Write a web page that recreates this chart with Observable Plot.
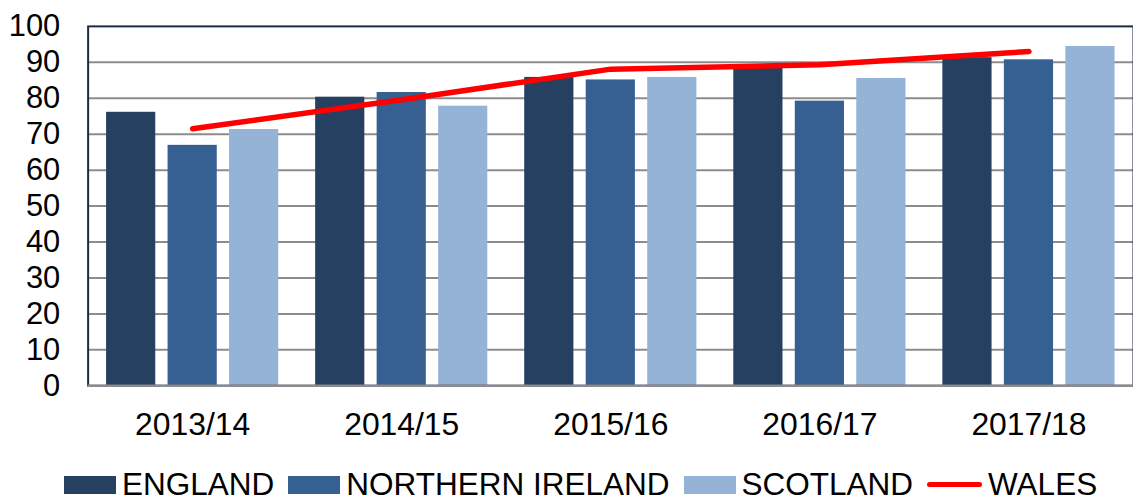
<!DOCTYPE html>
<html>
<head>
<meta charset="utf-8">
<script src="https://cdn.jsdelivr.net/npm/d3@7"></script>
<script src="https://cdn.jsdelivr.net/npm/@observablehq/plot@0.6"></script>
<style>
  html, body { margin: 0; padding: 0; background: #fff; overflow: hidden; width: 1133px; height: 500px; }
  #chart { position: absolute; left: 0; top: 0; }
  #legend { position: absolute; left: 64px; top: 469px; height: 31px; line-height: 31px;
    display: flex; align-items: center; justify-content: flex-start; gap: 14px; white-space: nowrap;
    font-family: "Liberation Sans", Arial, sans-serif; font-size: 31.5px; color: #000; }
  .item { display: flex; align-items: center; gap: 6px; }
  .sw { display: inline-block; width: 52px; height: 18px; }
  .ln { display: inline-block; width: 55px; height: 5px; border-radius: 3px; background: #ff0000; }
</style>
</head>
<body>
<div id="chart"></div>
<div id="legend"></div>
<script>
const years = ["2013/14", "2014/15", "2015/16", "2016/17", "2017/18"];
const series = ["ENGLAND", "NORTHERN IRELAND", "SCOTLAND"];
const england = [76.1, 80.3, 85.8, 88.5, 91.3];
const northernIreland = [66.9, 81.6, 85.1, 79.2, 90.7];
const scotland = [71.3, 77.8, 85.8, 85.5, 94.4];
const wales = [71.5, 79.6, 88.1, 89.3, 93.0];
const yTicks = [0, 10, 20, 30, 40, 50, 60, 70, 80, 90, 100];
const colors = ["#254061", "#376092", "#95B3D7"];
const walesColor = "#ff0000";

const barValues = [england, northernIreland, scotland];
const width = 1138, marginLeft = 88, marginRight = 0;
const bandWidth = (width - marginLeft - marginRight) / years.length;
const sub = d3.scaleBand().domain(series).range([0, bandWidth]).paddingInner(0.2).paddingOuter(0.3);

const barMarks = series.map((s, i) => {
  const data = years.map((y, j) => ({year: y, value: barValues[i][j]}));
  const left = sub(s);
  const right = bandWidth - left - sub.bandwidth();
  return Plot.barY(data, {x: "year", y: "value", fill: colors[i], insetLeft: left, insetRight: right});
});
const walesData = years.map((y, j) => ({year: y, value: wales[j]}));

const chart = Plot.plot({
  width, height: 450,
  marginLeft, marginRight, marginTop: 26, marginBottom: 63,
  style: {fontFamily: "'Liberation Sans', Arial, sans-serif", color: "#000", background: "#fff", overflow: "visible"},
  x: {domain: years, padding: 0, label: null},
  y: {domain: [0, 100], label: null},
  marks: [
    Plot.ruleY(yTicks.filter(t => t > 0 && t < 100), {stroke: "#8c8c8c", strokeWidth: 2}),
    ...barMarks,
    Plot.frame({stroke: "#1c2b40", strokeWidth: 2, fill: "none"}),
    Plot.ruleY([0], {stroke: "#8c8c8c", strokeWidth: 2.5}),
    Plot.lineY(walesData, {x: "year", y: "value", stroke: walesColor, strokeWidth: 5.5, strokeLinecap: "round", strokeLinejoin: "round"}),
    Plot.axisY({ticks: yTicks, tickSize: 0, tickPadding: 28, fontSize: 31, label: null}),
    Plot.axisX({tickSize: 0, tickPadding: 27, fontSize: 32, label: null})
  ]
});
document.getElementById("chart").appendChild(chart);

const legend = document.getElementById("legend");
series.forEach((s, i) => {
  const it = document.createElement("div"); it.className = "item";
  const sw = document.createElement("span"); sw.className = "sw"; sw.style.background = colors[i];
  const t = document.createElement("span"); t.textContent = s;
  it.appendChild(sw); it.appendChild(t); legend.appendChild(it);
});
{
  const it = document.createElement("div"); it.className = "item";
  const sw = document.createElement("span"); sw.className = "ln";
  const t = document.createElement("span"); t.textContent = "WALES";
  it.appendChild(sw); it.appendChild(t); legend.appendChild(it);
}
</script>
</body>
</html>
